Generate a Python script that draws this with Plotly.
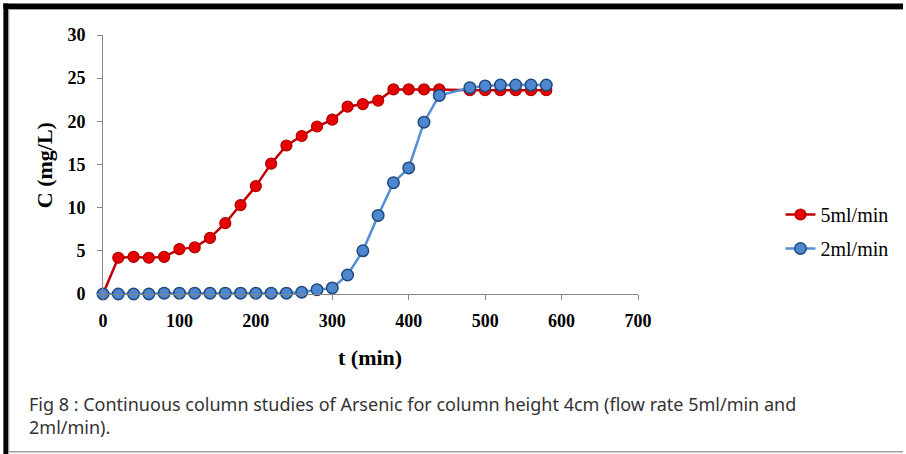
import plotly.graph_objects as go

# ---- data ----
t_5ml = [0, 20, 40, 60, 80, 100, 120, 140, 160, 180, 200, 220, 240, 260, 280, 300,
         320, 340, 360, 380, 400, 420, 440, 480, 500, 520, 540, 560, 580]
c_5ml = [0, 4.2, 4.3, 4.2, 4.3, 5.2, 5.4, 6.5, 8.2, 10.3, 12.5, 15.1, 17.2, 18.3, 19.4, 20.2,
         21.7, 22.0, 22.4, 23.7, 23.7, 23.7, 23.7, 23.6, 23.6, 23.6, 23.6, 23.6, 23.6]

t_2ml = [0, 20, 40, 60, 80, 100, 120, 140, 160, 180, 200, 220, 240, 260, 280, 300,
         320, 340, 360, 380, 400, 420, 440, 480, 500, 520, 540, 560, 580]
c_2ml = [0, 0, 0, 0, 0.1, 0.1, 0.1, 0.1, 0.1, 0.1, 0.1, 0.1, 0.1, 0.2, 0.5, 0.7,
         2.2, 5.0, 9.1, 12.9, 14.6, 19.9, 23.0, 23.9, 24.1, 24.2, 24.2, 24.2, 24.2]

x_ticks = [0, 100, 200, 300, 400, 500, 600, 700]
y_ticks = [0, 5, 10, 15, 20, 25, 30]
series_names = ["5ml/min", "2ml/min"]
caption = ("Fig 8 : Continuous column studies of Arsenic for column height 4cm (flow rate 5ml/min and"
           "<br>2ml/min).")

W, H = 906, 454
L, R, T, B = 103, 266, 35, 160
PW, PH = W - L - R, H - T - B


def px(x):
    return (x - L) / PW


def py(y):
    return (H - B - y) / PH


serif = "Liberation Serif, Times New Roman, serif"

fig = go.Figure()
fig.add_trace(go.Scatter(
    x=t_5ml, y=c_5ml, name=series_names[0], mode="lines+markers",
    line=dict(color="#c00000", width=2.5),
    marker=dict(size=11, color="#e60000", line=dict(color="#b00000", width=1.2)),
    cliponaxis=False, legendgroup="a"))
fig.add_trace(go.Scatter(
    x=t_2ml, y=c_2ml, name=series_names[1], mode="lines+markers",
    line=dict(color="#558ed5", width=2.5),
    marker=dict(size=11.5, color="#4f86d0", line=dict(color="#1f4a7a", width=1.5)),
    cliponaxis=False, legendgroup="b"))

axis_common = dict(showline=True, linecolor="#868686", linewidth=1, ticks="outside",
                   ticklen=5, tickcolor="#868686", showgrid=False, zeroline=False,
                   tickfont=dict(family=serif, size=18, color="black", weight="bold"))
fig.update_xaxes(range=[0, 700], tickvals=x_ticks, ticklabelstandoff=5, **axis_common)
fig.update_yaxes(range=[0, 30], tickvals=y_ticks, ticklabelstandoff=8, **axis_common)

fig.update_layout(
    width=W, height=H, margin=dict(l=L, r=R, t=T, b=B),
    paper_bgcolor="white", plot_bgcolor="white",
    legend=dict(x=px(783), y=py(195), xanchor="left", yanchor="top",
                font=dict(family=serif, size=20, color="black"),
                tracegroupgap=5, traceorder="grouped", bgcolor="rgba(0,0,0,0)"),
    annotations=[
        dict(text="t (min)", x=px(371), y=py(357), xref="paper", yref="paper",
             xanchor="center", yanchor="middle",
             showarrow=False, font=dict(family=serif, size=22, color="black", weight="bold")),
        dict(text="C (mg/L)", x=px(44), y=py(165), xref="paper", yref="paper", textangle=-90,
             xanchor="center", yanchor="middle",
             showarrow=False, font=dict(family=serif, size=22, color="black", weight="bold")),
        dict(text=caption, x=px(27), y=py(390), xref="paper", yref="paper",
             xanchor="left", yanchor="top", align="left", showarrow=False,
             font=dict(family="Noto Sans, sans-serif", size=18, color="#333333")),
    ],
    shapes=[
        dict(type="rect", xref="paper", yref="paper", x0=px(3), x1=px(906), y0=py(3.5), y1=py(9),
             fillcolor="black", line_width=0),
        dict(type="rect", xref="paper", yref="paper", x0=px(3), x1=px(8), y0=py(3.5), y1=py(454),
             fillcolor="black", line_width=0),
        dict(type="rect", xref="paper", yref="paper", x0=px(8), x1=px(906), y0=py(9), y1=py(10),
             fillcolor="#a0a0a0", line_width=0),
        dict(type="rect", xref="paper", yref="paper", x0=px(8), x1=px(9), y0=py(9), y1=py(452),
             fillcolor="#a0a0a0", line_width=0),
        dict(type="rect", xref="paper", yref="paper", x0=px(8), x1=px(906), y0=py(451), y1=py(452.5),
             fillcolor="#a0a0a0", line_width=0),
    ],
)

fig.write_html("out.html")
